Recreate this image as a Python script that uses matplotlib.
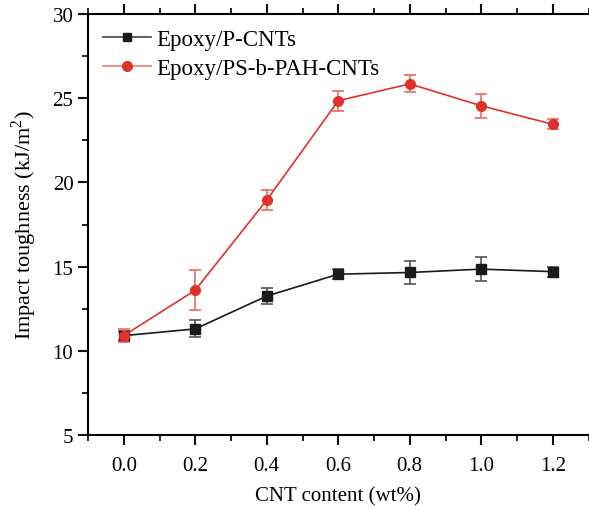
import matplotlib
matplotlib.use("Agg")
import matplotlib.pyplot as plt
from matplotlib.ticker import MultipleLocator
from matplotlib.lines import Line2D

x = [0.0, 0.2, 0.4, 0.6, 0.8, 1.0, 1.2]
p_cnts = [10.9, 11.3, 13.25, 14.55, 14.65, 14.85, 14.7]
p_cnts_err = [0.3, 0.5, 0.5, 0.3, 0.7, 0.7, 0.3]
psb_cnts = [10.9, 13.6, 18.95, 24.85, 25.85, 24.55, 23.45]
psb_cnts_err = [0.4, 1.2, 0.6, 0.6, 0.5, 0.7, 0.3]
labels = ["Epoxy/P-CNTs", "Epoxy/PS-b-PAH-CNTs"]

plt.rcParams['font.family'] = ['Liberation Serif', 'DejaVu Serif']
plt.rcParams['mathtext.fontset'] = 'custom'
plt.rcParams['mathtext.rm'] = 'Liberation Serif'

fig = plt.figure(figsize=(5.89, 5.10), dpi=100)
ax = fig.add_axes([88/589, 74/510, 500.5/589, 421/510])

red = '#e0322a'
black = '#1a1a1a'
ax.errorbar(x, p_cnts, yerr=p_cnts_err, color=black, marker='s', markersize=6.5,
            linewidth=1.2, ecolor='#555555', elinewidth=1.2, capsize=4, capthick=1.2,
            zorder=3)
ax.errorbar(x, psb_cnts, yerr=psb_cnts_err, color=red, marker='o', markersize=7,
            linewidth=1.2, ecolor='#ea6a60', elinewidth=1.2, capsize=4, capthick=1.2,
            zorder=4)

ax.set_xlim(-0.1, 1.3)
ax.set_ylim(5, 30)
ax.xaxis.set_minor_locator(MultipleLocator(0.1))
ax.yaxis.set_major_locator(MultipleLocator(5))
ax.yaxis.set_minor_locator(MultipleLocator(2.5))
ax.set_xticks(x)
ax.set_xticklabels(["%.1f" % v for v in x])

ax.spines['right'].set_visible(False)
for s in ['left', 'bottom', 'top']:
    ax.spines[s].set_linewidth(1.5)
ax.tick_params(which='major', direction='out', length=7, width=1.5, labelsize=15, color='#111111')
ax.tick_params(which='minor', direction='out', length=4, width=1.3, color='#111111')
ax.tick_params(axis='x', which='both', top=True, bottom=True)
ax.tick_params(axis='x', which='major', pad=8)

ax.set_xlabel("CNT content (wt%)", fontsize=15, labelpad=8)
ax.set_ylabel("Impact toughness (kJ/m$^2$)", fontsize=16, labelpad=10)

handles = [
    Line2D([], [], color='#444444', linewidth=1.2, marker='s', markersize=6,
           markerfacecolor=black, markeredgecolor=black),
    Line2D([], [], color='#ee7d75', linewidth=1.2, marker='o', markersize=7,
           markerfacecolor=red, markeredgecolor=red),
]
ax.legend(handles, labels, loc='upper left', frameon=False, fontsize=16.5, handlelength=2.1,
          borderaxespad=0.3, borderpad=0.35, handletextpad=0.25, labelspacing=0.35)

fig.savefig("out.png", dpi=100)
